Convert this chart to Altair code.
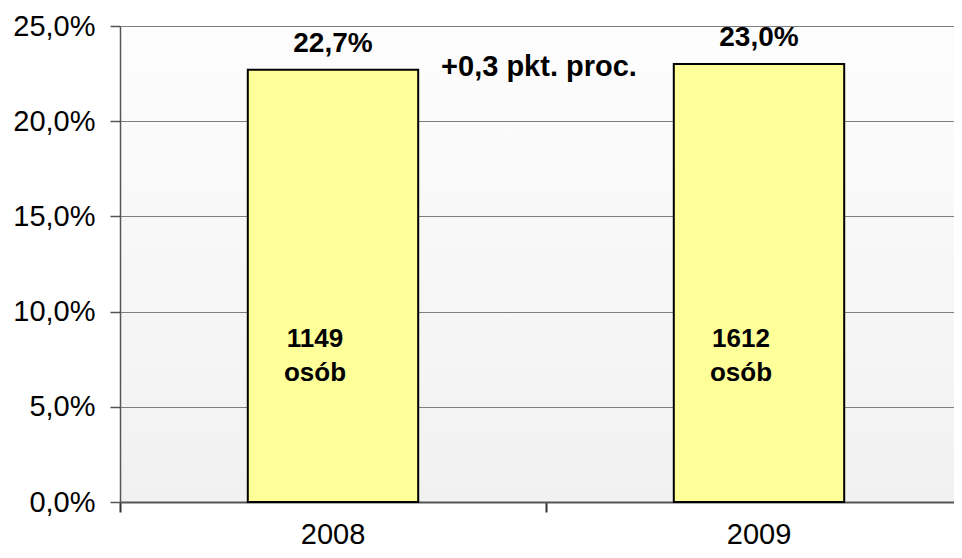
import altair as alt
import pandas as pd

years = ["2008", "2009"]
shares = [22.7, 23.0]
share_labels = ["22,7%", "23,0%"]
counts = [1149, 1612]
count_unit = "osób"
diff_label = "+0,3 pkt. proc."
y_ticks = [0, 5, 10, 15, 20, 25]

df = pd.DataFrame({
    "year": years,
    "share": shares,
    "share_label": share_labels,
    "count": counts,
})
diff_df = pd.DataFrame({"year": [years[0]], "share": [shares[0]], "label": [diff_label]})

FONT = "Liberation Sans"

xscale = alt.Scale(domain=years, range=[0, 852], paddingInner=0, paddingOuter=0)
yscale = alt.Scale(domain=[0, 25], nice=False)

xaxis = alt.Axis(
    title=None, labelAngle=0, labelFont=FONT, labelFontSize=29, labelColor="black",
    labelBaseline="alphabetic", labelPadding=31, tickSize=10, tickColor="#333333", tickWidth=2,
    bandPosition=1, tickExtra=True,
    domainColor="#555555", domainWidth=2, grid=False,
)
yaxis = alt.Axis(
    title=None, values=y_ticks, labelFont=FONT, labelFontSize=29, labelColor="black",
    labelPadding=15, tickSize=10, tickColor="#555555", tickWidth=1.5,
    domainColor="#555555", domainWidth=1.5,
    grid=True, gridColor="#7f7f7f", gridWidth=1.2,
    labelExpr="replace(format(datum.value, '.1f'), '.', ',') + '%'",
)

base = alt.Chart(df).encode(x=alt.X("year:N", scale=xscale, axis=xaxis))

bars = base.mark_bar(
    fill="#FFFF99", stroke="black", strokeWidth=2, width=alt.RelativeBandSize(band=0.4)
).encode(y=alt.Y("share:Q", scale=yscale, axis=yaxis))

top_labels = base.mark_text(
    font=FONT, fontSize=28, fontWeight="bold", color="black",
    baseline="alphabetic", dy=-18,
).encode(y=alt.Y("share:Q"), text="share_label:N")

inside_labels = base.transform_calculate(
    lbl="datum.count + '\\n" + count_unit + "'"
).mark_text(
    font=FONT, fontSize=26, fontWeight="bold", color="black",
    lineBreak="\n", lineHeight=34, baseline="middle", dx=-18,
).encode(y=alt.datum(8.55), text="lbl:N")

diff_text = alt.Chart(diff_df).mark_text(
    font=FONT, fontSize=29, fontWeight="bold", color="black",
    baseline="alphabetic", dx=206, dy=6,
).encode(
    x=alt.X("year:N", scale=xscale, axis=xaxis),
    y=alt.Y("share:Q"),
    text="label:N",
)

chart = alt.layer(bars, top_labels, inside_labels, diff_text).properties(
    width=834, height=476,
    autosize=alt.AutoSizeParams(type="none"),
    padding={"left": 112, "top": 18, "right": 0, "bottom": 48},
    background="white",
).configure_view(
    stroke=None,
    fill=alt.ExprRef(expr="{gradient: 'linear', x1: 0, y1: 0, x2: 0, y2: 1, stops: [{offset: 0, color: '#fdfdfd'}, {offset: 1, color: '#f1f1f1'}]}"),
)

chart.save("out.html", embed_options={"renderer": "svg", "actions": False})
